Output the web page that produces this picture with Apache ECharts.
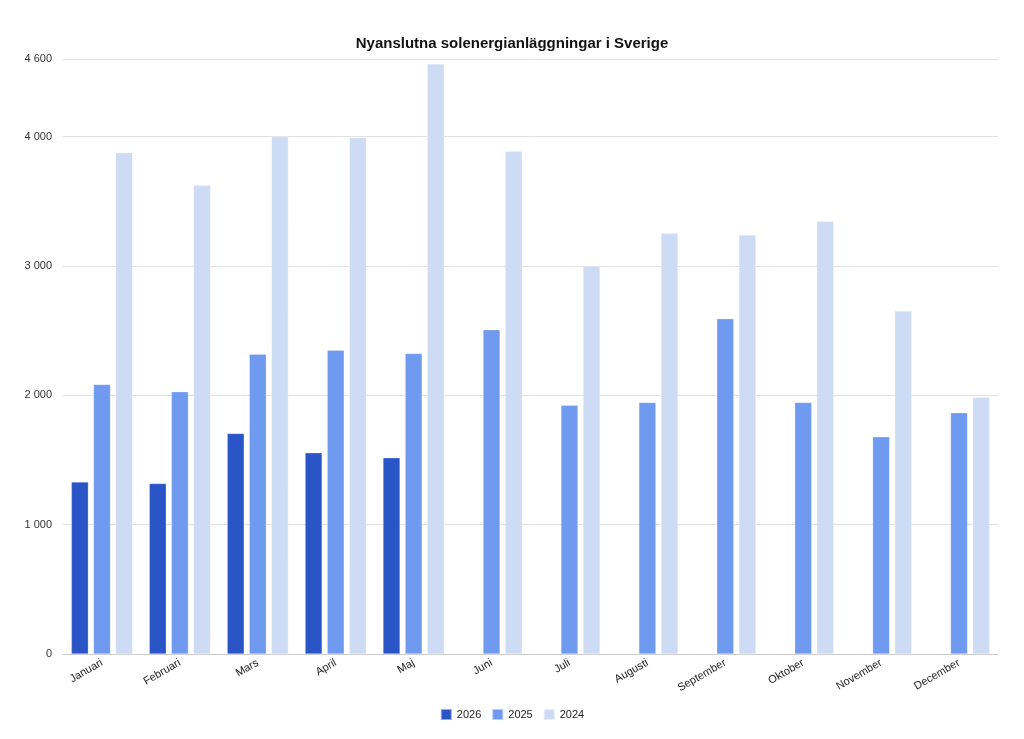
<!DOCTYPE html>
<html>
<head>
<meta charset="utf-8">
<script src="https://cdn.jsdelivr.net/npm/echarts@6/dist/echarts.min.js"></script>
<style>
html,body{margin:0;padding:0;background:#fff;}
#chart{width:1024px;height:739px;}
</style>
</head>
<body>
<div id="chart"></div>
<script>
const titleText = 'Nyanslutna solenergianläggningar i Sverige';
const months = ['Januari','Februari','Mars','April','Maj','Juni','Juli','Augusti','September','Oktober','November','December'];
const seriesNames = ['2026','2025','2024'];
const values2026 = [1330, 1318, 1705, 1556, 1517, null, null, null, null, null, null, null];
const values2025 = [2084, 2027, 2318, 2349, 2323, 2507, 1923, 1944, 2592, 1944, 1679, 1865];
const values2024 = [3876, 3623, 3998, 3992, 4562, 3886, 2999, 3252, 3239, 3345, 2651, 1985];
const colors = ['#2a55c7', '#6f9aef', '#cddbf5'];

const font = '"Liberation Sans", Arial, sans-serif';
function fmt(v){ return String(v).replace(/\B(?=(\d{3})+(?!\d))/g, ' '); }

const chart = echarts.init(document.getElementById('chart'), null, {renderer:'canvas'});
const data = [values2026, values2025, values2024];
chart.setOption({
  animation: false,
  backgroundColor: '#ffffff',
  title: {
    text: titleText, left: 'center', top: 31,
    textStyle: {fontFamily: font, fontSize: 15, fontWeight: 'bold', color: '#111'}
  },
  legend: {
    bottom: 13, left: 'center', itemWidth: 11, itemHeight: 11, itemGap: 10,
    icon: 'rect',
    textStyle: {fontFamily: font, fontSize: 11, color: '#222'},
    data: seriesNames
  },
  grid: {left: 63, right: 26, top: 59, bottom: 85, containLabel: false},
  xAxis: {
    type: 'category', data: months,
    axisTick: {show: false},
    axisLine: {lineStyle: {color: '#cccccc'}},
    axisLabel: {rotate: 30, fontFamily: font, fontSize: 11, color: '#222', margin: 8, interval: 0}
  },
  yAxis: {
    type: 'value', min: 0, max: 4600, interval: 1000,
    axisLine: {show: false}, axisTick: {show: false},
    splitLine: {lineStyle: {color: '#e2e2e2'}},
    axisLabel: {fontFamily: font, fontSize: 11, color: '#333', margin: 11, formatter: fmt}
  },
  series: seriesNames.map((n, i) => ({
    name: n, type: 'bar', data: data[i],
    barWidth: 17, barGap: '30%',
    itemStyle: {color: colors[i], borderColor: 'rgba(255,255,255,0.5)', borderWidth: 0.5}
  }))
});
</script>
</body>
</html>
